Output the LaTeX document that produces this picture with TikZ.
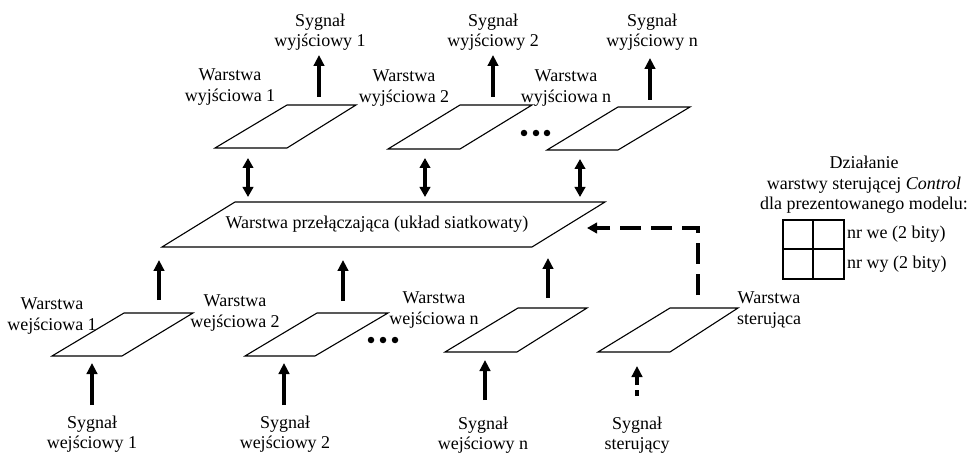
\documentclass[tikz,border=0pt]{standalone}
\usepackage{fontspec}
\setmainfont{Liberation Serif}
\usetikzlibrary{arrows.meta}
\begin{document}
\begin{tikzpicture}[x=1pt,y=-1pt,
  layer/.style={line width=1.1pt,line join=miter},
  lbl/.style={align=center,font=\fontsize{18}{20.5}\selectfont,inner sep=0pt},
  arr/.style={line width=3.6pt,-{Triangle[length=11pt,width=10.5pt]}},
  darr/.style={line width=3.6pt,{Triangle[length=10pt,width=10.5pt]}-{Triangle[length=10pt,width=10.5pt]}},
  dotc/.style={fill=black,circle,inner sep=0pt,minimum size=6.5pt}
]
\useasboundingbox (0,0) rectangle (975,457);

% ---------- output layers ----------
\draw[layer] (215,148) -- (287,148) -- (356,105) -- (287,105) -- cycle;
\draw[layer] (388,149) -- (460,149) -- (532,105) -- (460,105) -- cycle;
\draw[layer] (547,150) -- (618,150) -- (690,107) -- (618,107) -- cycle;
\node[dotc] (od1) at (524,133) {};
\node[dotc] (od2) at (536,133) {};
\node[dotc] (od3) at (547,133) {};

\node[lbl] (ol1) at (230,87) {Warstwa\\wyjściowa 1};
\node[lbl] (ol2) at (404,88) {Warstwa\\wyjściowa 2};
\node[lbl] (oln) at (566,88) {Warstwa\\wyjściowa n};

\node[lbl] (os1) at (320,32) {Sygnał\\wyjściowy 1};
\node[lbl] (os2) at (493,32) {Sygnał\\wyjściowy 2};
\node[lbl] (osn) at (652,32) {Sygnał\\wyjściowy n};

\coordinate (o1a) at (319,97); \coordinate (o1b) at (319,55);
\coordinate (o2a) at (493,97); \coordinate (o2b) at (493,55);
\coordinate (ona) at (650,100); \coordinate (onb) at (650,58);
\draw[arr] (o1a) -- (o1b);
\draw[arr] (o2a) -- (o2b);
\draw[arr] (ona) -- (onb);

% ---------- double arrows ----------
\coordinate (d1a) at (248,158); \coordinate (d1b) at (248,197);
\coordinate (d2a) at (425,158); \coordinate (d2b) at (425,197);
\coordinate (dna) at (580,159); \coordinate (dnb) at (580,197);
\draw[darr] (d1a) -- (d1b);
\draw[darr] (d2a) -- (d2b);
\draw[darr] (dna) -- (dnb);

% ---------- switching layer ----------
\draw[layer] (162,247) -- (532,247) -- (605,202) -- (235,202) -- cycle;
\node[lbl] (sw) at (377,224) {Warstwa przełączająca (układ siatkowaty)};

% ---------- arrows into switching layer ----------
\coordinate (i1a) at (159,300); \coordinate (i1b) at (159,260);
\coordinate (i2a) at (343,301); \coordinate (i2b) at (343,260);
\coordinate (ina) at (548,298); \coordinate (inb) at (548,258);
\draw[arr] (i1a) -- (i1b);
\draw[arr] (i2a) -- (i2b);
\draw[arr] (ina) -- (inb);

% ---------- control dashed arrow ----------
\coordinate (ca) at (698,295); \coordinate (cm) at (698,228); \coordinate (cb) at (587,228);
\draw[line width=3.4pt,dash pattern=on 21pt off 10pt,-{Triangle[length=10pt,width=10.5pt]}] (ca) -- (cm) -- (cb);

% ---------- input layers ----------
\draw[layer] (52,356) -- (122,356) -- (193,313) -- (124,313) -- cycle;
\draw[layer] (245,356) -- (315,356) -- (388,313) -- (317,313) -- cycle;
\draw[layer] (445,352) -- (517,352) -- (587,308) -- (518,308) -- cycle;
\draw[layer] (598,352) -- (670,352) -- (738,308) -- (670,308) -- cycle;
\node[dotc] (id1) at (371,340) {};
\node[dotc] (id2) at (383,340) {};
\node[dotc] (id3) at (395,340) {};

\node[lbl] (il1) at (52,316) {Warstwa\\wejściowa 1};
\node[lbl] (il2) at (235,313) {Warstwa\\wejściowa 2};
\node[lbl] (iln) at (434,310) {Warstwa\\wejściowa n};
\node[lbl] (ilc) at (769,310) {Warstwa\\sterująca};

% ---------- input signals ----------
\node[lbl] (is1) at (92,434) {Sygnał\\wejściowy 1};
\node[lbl] (is2) at (285,434) {Sygnał\\wejściowy 2};
\node[lbl] (isn) at (483,435) {Sygnał\\wejściowy n};
\node[lbl] (isc) at (637,435) {Sygnał\\sterujący};

\coordinate (s1a) at (92,405); \coordinate (s1b) at (92,363);
\coordinate (s2a) at (284,405); \coordinate (s2b) at (284,363);
\coordinate (sna) at (485,400); \coordinate (snb) at (485,360);
\coordinate (sca) at (637,396); \coordinate (scb) at (637,366);
\draw[arr] (s1a) -- (s1b);
\draw[arr] (s2a) -- (s2b);
\draw[arr] (sna) -- (snb);
\draw[arr,dash pattern=on 6pt off 5pt on 40pt] (sca) -- (scb);

% ---------- legend ----------
\node[lbl] (leg) at (864,185) {Działanie\\warstwy sterującej \textit{Control}\\dla prezentowanego modelu:};
\draw[line width=1.1pt] (783,220) rectangle (844,279);
\draw[line width=1.1pt] (813,220) -- (813,279);
\draw[line width=1.1pt] (783,249) -- (844,249);
\node[lbl,anchor=west] (nrwe) at (847,234) {nr we (2 bity)};
\node[lbl,anchor=west] (nrwy) at (847,264) {nr wy (2 bity)};
\end{tikzpicture}
\end{document}
